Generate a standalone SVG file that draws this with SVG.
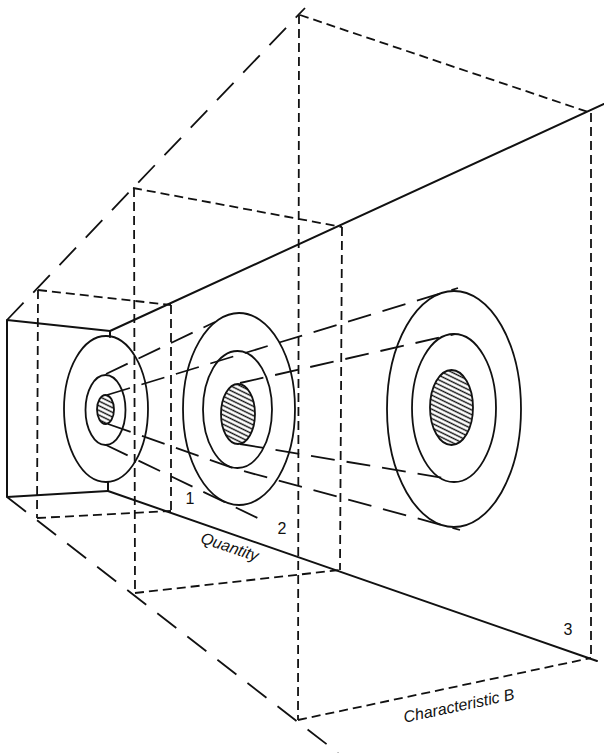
<svg xmlns="http://www.w3.org/2000/svg" width="604" height="753" viewBox="0 0 604 753">
<style>
.solid{fill:none;stroke:#111;stroke-width:2;stroke-linecap:round;stroke-linejoin:round}
.ring{fill:none;stroke:#111;stroke-width:1.8}
.hatched{fill:url(#hatch);stroke:#111;stroke-width:1.8}
.box{fill:none;stroke:#111;stroke-width:1.8;stroke-dasharray:9 5}
.persp{fill:none;stroke:#111;stroke-width:1.8;stroke-dasharray:24 14}
.cone{fill:none;stroke:#111;stroke-width:1.8;stroke-dasharray:24 12}
.lbl{font-family:"Liberation Sans",Arial,sans-serif;font-size:16px;fill:#111}
.axis{font-family:"Liberation Sans",Arial,sans-serif;font-size:16px;font-style:italic;fill:#111}
</style>
<defs>
<pattern id="hatch" patternUnits="userSpaceOnUse" width="4.2" height="4.2" patternTransform="rotate(26)">
<rect width="4.2" height="4.2" fill="#fff"/>
<line x1="0" y1="2.1" x2="4.2" y2="2.1" stroke="#111" stroke-width="1.4"/>
</pattern>
</defs>
<rect width="604" height="753" fill="#fff"/>

<g id="perspective-lines">
<line class="persp" x1="7" y1="320" x2="305" y2="8"/>
<line class="persp" x1="7" y1="497" x2="338" y2="753"/>
</g>

<g id="box-1">
<line class="box" x1="38" y1="290" x2="171" y2="305"/>
<line class="box" x1="38" y1="290" x2="37" y2="518"/>
<line class="box" x1="37" y1="518" x2="171" y2="511"/>
<line class="box" x1="171" y1="305" x2="171" y2="511"/>
</g>

<g id="box-2">
<line class="box" x1="133" y1="188" x2="342" y2="227"/>
<line class="box" x1="134" y1="188" x2="135" y2="593"/>
<line class="box" x1="135" y1="593" x2="340" y2="570"/>
<line class="box" x1="342" y1="227" x2="340" y2="570"/>
</g>

<g id="box-3">
<line class="box" x1="300" y1="15" x2="591" y2="113"/>
<line class="box" x1="299" y1="15" x2="298" y2="720"/>
<line class="box" x1="298" y1="720" x2="591" y2="658"/>
<line class="box" x1="591" y1="113" x2="591" y2="658"/>
</g>

<g id="funnel">
<polyline class="solid" points="110,331 7,320 7,497 108,491"/>
<line class="solid" x1="110" y1="331" x2="110" y2="337"/>
<line class="solid" x1="108" y1="491" x2="108" y2="482"/>
<line class="solid" x1="110" y1="331" x2="604" y2="104"/>
<line class="solid" x1="108" y1="491" x2="597" y2="661"/>
</g>

<g id="connectors">
<line class="cone" x1="107" y1="395" x2="458" y2="288"/>
<polyline class="cone" points="108,424 236,469 460,530"/>
<line class="cone" x1="106" y1="374" x2="215" y2="322"/>
<line class="cone" x1="106" y1="445" x2="268" y2="523"/>
<line class="cone" x1="240" y1="383" x2="455" y2="334"/>
<line class="cone" x1="240" y1="444" x2="450" y2="479"/>
</g>

<g id="rings-1">
<ellipse class="ring" cx="106" cy="409" rx="42" ry="73"/>
<ellipse class="ring" cx="105.5" cy="410" rx="20" ry="35"/>
<ellipse class="hatched" cx="105.5" cy="409.5" rx="8.5" ry="14.5"/>
</g>

<g id="rings-2">
<ellipse class="ring" cx="239" cy="409" rx="56" ry="96"/>
<ellipse class="ring" cx="237.5" cy="409.5" rx="34.5" ry="58.5"/>
<ellipse class="hatched" cx="238" cy="414" rx="17" ry="30"/>
</g>

<g id="rings-3">
<ellipse class="ring" cx="454" cy="409" rx="67" ry="118"/>
<ellipse class="ring" cx="454" cy="408" rx="42" ry="74"/>
<ellipse class="hatched" cx="451.5" cy="407.5" rx="21.5" ry="37.5"/>
</g>

<g id="labels">
<text class="lbl" x="190" y="504" text-anchor="middle">1</text>
<text class="lbl" x="282" y="534" text-anchor="middle">2</text>
<text class="lbl" x="568" y="635" text-anchor="middle">3</text>
<text class="axis" x="0" y="0" text-anchor="middle" transform="translate(228,552) rotate(18.5)">Quantity</text>
<text class="axis" x="0" y="0" text-anchor="middle" font-size="16.5" transform="translate(460,711) rotate(-12)">Characteristic B</text>
</g>
</svg>
